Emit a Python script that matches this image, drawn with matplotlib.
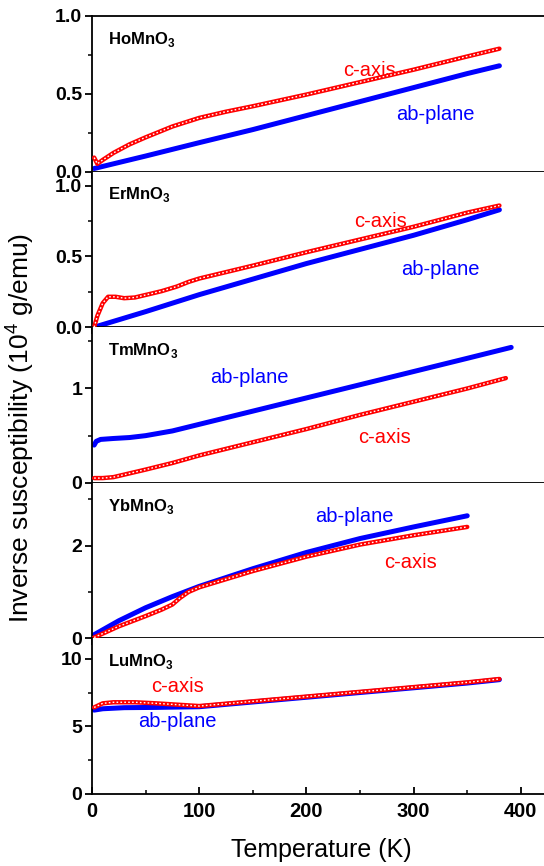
import matplotlib
matplotlib.use('Agg')
import matplotlib.pyplot as plt
from matplotlib.ticker import MultipleLocator

plt.rcParams['font.family'] = ['Liberation Sans', 'DejaVu Sans']
plt.rcParams['mathtext.fontset'] = 'custom'
plt.rcParams['mathtext.rm'] = 'Liberation Sans'
plt.rcParams['mathtext.bf'] = 'Liberation Sans:bold'

# --- data (T in K, inverse susceptibility in 10^4 g/emu) ---
compounds = ['HoMnO$_\\mathbf{3}$', 'ErMnO$_\\mathbf{3}$', 'TmMnO$_\\mathbf{3}$',
             'YbMnO$_\\mathbf{3}$', 'LuMnO$_\\mathbf{3}$']

ho_c_T = [2, 5, 10, 20, 35, 50, 75, 100, 125, 150, 200, 250, 300, 350, 380]
ho_c_y = [0.09, 0.05, 0.075, 0.12, 0.175, 0.22, 0.29, 0.345, 0.385, 0.42, 0.495, 0.575, 0.655, 0.74, 0.79]
ho_ab_T = [2, 50, 100, 150, 200, 250, 300, 350, 380]
ho_ab_y = [0.02, 0.10, 0.186, 0.27, 0.36, 0.45, 0.54, 0.63, 0.68]

er_c_T = [2, 5, 10, 15, 22, 30, 40, 54, 65, 79, 90, 100, 150, 200, 250, 300, 350, 380]
er_c_y = [0.0, 0.08, 0.17, 0.215, 0.215, 0.205, 0.21, 0.235, 0.255, 0.287, 0.32, 0.344, 0.435, 0.53, 0.62, 0.71, 0.81, 0.86]
er_ab_T = [2, 50, 100, 150, 200, 250, 300, 350, 380]
er_ab_y = [0.0, 0.11, 0.23, 0.34, 0.45, 0.55, 0.65, 0.76, 0.83]

tm_c_T = [2, 10, 20, 35, 50, 75, 100, 150, 200, 250, 300, 350, 386]
tm_c_y = [0.05, 0.05, 0.06, 0.10, 0.14, 0.21, 0.29, 0.43, 0.57, 0.72, 0.86, 1.00, 1.11]
tm_ab_T = [2, 4, 8, 20, 35, 50, 75, 100, 150, 200, 250, 300, 350, 391]
tm_ab_y = [0.40, 0.44, 0.46, 0.47, 0.48, 0.50, 0.55, 0.62, 0.76, 0.90, 1.04, 1.18, 1.32, 1.436]

yb_c_T = [2, 25, 50, 65, 75, 82, 90, 100, 150, 200, 250, 300, 350]
yb_c_y = [0.02, 0.26, 0.48, 0.62, 0.73, 0.87, 1.00, 1.10, 1.45, 1.76, 2.02, 2.22, 2.40]
yb_ab_T = [2, 25, 50, 75, 100, 150, 200, 250, 300, 350]
yb_ab_y = [0.08, 0.38, 0.66, 0.90, 1.12, 1.50, 1.85, 2.15, 2.40, 2.64]

lu_c_T = [2, 10, 20, 40, 60, 80, 100, 150, 200, 250, 300, 350, 380]
lu_c_y = [6.4, 6.7, 6.78, 6.78, 6.7, 6.6, 6.5, 6.85, 7.2, 7.55, 7.9, 8.25, 8.5]
lu_ab_T = [2, 10, 30, 60, 100, 150, 200, 250, 300, 350, 380]
lu_ab_y = [6.2, 6.3, 6.38, 6.4, 6.45, 6.8, 7.15, 7.5, 7.85, 8.2, 8.45]

c_data = [(ho_c_T, ho_c_y), (er_c_T, er_c_y), (tm_c_T, tm_c_y), (yb_c_T, yb_c_y), (lu_c_T, lu_c_y)]
ab_data = [(ho_ab_T, ho_ab_y), (er_ab_T, er_ab_y), (tm_ab_T, tm_ab_y), (yb_ab_T, yb_ab_y), (lu_ab_T, lu_ab_y)]

ylims = [(0, 1.0), (0, 1.1), (0, 1.65), (0, 3.35), (0, 11.5)]
major_steps = [0.5, 0.5, 1, 2, 5]
y_fmt = ['{:.1f}', '{:.1f}', '{:.0f}', '{:.0f}', '{:.0f}']

# curve label positions (T, y)
c_label_pos = [(259, 0.65), (269, 0.745), (273, 0.48), (297, 1.63), (80, 7.95)]
ab_label_pos = [(320, 0.365), (325, 0.406), (147, 1.12), (245, 2.62), (80, 5.35)]

fig = plt.figure(figsize=(5.44, 8.66), dpi=100)
left, right, bottom, top = 92 / 544, 1.0, 1 - 794 / 866, 1 - 16 / 866
h = (top - bottom) / 5

for i in range(5):
    ax = fig.add_axes([left, top - (i + 1) * h, right - left, h])
    cT, cy = c_data[i]
    aT, ay = ab_data[i]
    # ab-plane: solid blue
    ax.plot(aT, ay, color='#0000ff', linewidth=3.6, solid_capstyle='round', zorder=2)
    # c-axis: chain of open red circles
    ax.plot(cT, cy, color='#ff0000', linewidth=3.2, solid_capstyle='round', zorder=3)
    ax.plot(cT, cy, color='white', linewidth=1.0, linestyle=(0, (1.2, 1.6)), zorder=4)

    ax.set_xlim(0, 421.6)
    ax.set_ylim(*ylims[i])
    ax.yaxis.set_major_locator(MultipleLocator(major_steps[i]))
    ax.yaxis.set_minor_locator(MultipleLocator(major_steps[i] / 2))
    ax.xaxis.set_major_locator(MultipleLocator(100))
    ax.xaxis.set_minor_locator(MultipleLocator(50))
    fmt = y_fmt[i]
    ax.set_yticklabels([fmt.format(v) for v in ax.get_yticks()])
    ax.set_ylim(*ylims[i])

    ax.spines['right'].set_visible(False)
    ax.spines['top'].set_visible(i == 0)
    for s in ax.spines.values():
        s.set_linewidth(1.3)

    ax.tick_params(axis='y', which='major', direction='out', length=5, width=1.3,
                   labelsize=14, pad=2)
    ax.tick_params(axis='y', which='minor', direction='out', length=3, width=1.1)
    if i < 4:
        ax.tick_params(axis='x', which='major', direction='out', length=5, width=1.3, labelbottom=False)
        ax.tick_params(axis='x', which='minor', direction='out', length=3, width=1.1)
    else:
        ax.tick_params(axis='x', which='major', direction='in', length=5, width=1.3,
                       labelsize=14.5, pad=6)
        ax.tick_params(axis='x', which='minor', direction='in', length=3, width=1.1)
        ax.set_xticklabels([f'{v:.0f}' for v in ax.get_xticks()])
        ax.set_xlim(0, 421.6)
    for lab in ax.get_xticklabels() + ax.get_yticklabels():
        lab.set_fontweight('bold')

    ax.text(0.035, 0.85, compounds[i], transform=ax.transAxes, fontsize=12,
            fontweight='bold', ha='left', va='center')
    ax.text(c_label_pos[i][0], c_label_pos[i][1], 'c-axis', color='#ff0000',
            fontsize=14.5, ha='center', va='center')
    ax.text(ab_label_pos[i][0], ab_label_pos[i][1], 'ab-plane', color='#0000ff',
            fontsize=14.5, ha='center', va='center')

fig.text(20 / 544, 1 - 428 / 866, 'Inverse susceptibility (10$^4$ g/emu)',
         rotation=90, ha='center', va='center', fontsize=19)
fig.text(321 / 544, 1 - 850 / 866, 'Temperature (K)', ha='center', va='center', fontsize=18)

fig.savefig('out.png', dpi=100)
